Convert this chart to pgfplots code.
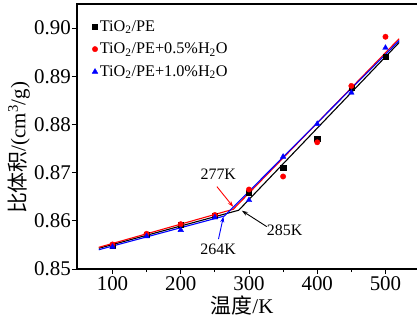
\documentclass[border=0pt]{standalone}
\usepackage{fontspec}
\setmainfont{Liberation Serif}
\newfontfamily\cjk{Noto Sans CJK SC}
\usepackage{pgfplots}
\pgfplotsset{compat=1.18}
\usetikzlibrary{arrows.meta}
\begin{document}
\begin{tikzpicture}
\begin{axis}[
  scale only axis,
  width=342.6bp, height=265bp,
  xmin=48, xmax=550, ymin=0.85, ymax=0.905,
  xtick={100,200,300,400,500},
  minor xtick={150,250,350,450},
  ytick={0.85,0.86,0.87,0.88,0.89,0.90},
  xtick pos=bottom, ytick pos=left,
  tick align=outside,
  major tick length=5bp, minor tick length=3bp,
  every tick/.style={black, line width=0.9bp},
  axis line style={line width=1.2bp},
  /pgf/number format/assume math mode=true,
  yticklabel style={/pgf/number format/fixed, /pgf/number format/fixed zerofill, /pgf/number format/precision=2, /tikz/inner sep=1bp},
  tick label style={font=\fontsize{21}{21}\selectfont},
  xticklabel style={inner sep=2bp},
  xlabel={{\cjk 温度}/K},
  ylabel={{\cjk 比体积}/(cm\textsuperscript{3}/g)},
  xlabel style={font=\fontsize{21}{21}\selectfont, at={(axis description cs:0.4816,-0.136)}, anchor=center},
  ylabel style={font=\fontsize{21}{21}\selectfont, at={(axis description cs:-0.17,0.457)}, anchor=center},
  legend style={at={(0.041,0.95)}, anchor=north west, draw=none, fill=none,
    font=\fontsize{16.3}{16.3}\selectfont, row sep=6.3bp, inner sep=1bp},
  legend cell align=left,
  legend image code/.code={\draw[mark repeat=2,mark phase=2] plot coordinates {(0cm,0cm)(0.13cm,0cm)(0.26cm,0cm)};},
  clip=false,
]
% fitted lines
\addplot[black, line width=1.1bp, forget plot] coordinates {(80,0.8543) (285,0.8622) (520,0.8970)};
\addplot[red, line width=1.1bp, forget plot] coordinates {(80,0.8545) (277,0.8624) (520,0.8978)};
\addplot[blue, line width=1.1bp, forget plot] coordinates {(80,0.8540) (264,0.8610) (520,0.8974)};
% data
\addplot[only marks, mark=square*, mark size=2.6bp, black] coordinates {
 (100,0.8549) (150,0.8572) (200,0.8592) (250,0.8611) (300,0.8658) (350,0.8710) (400,0.8771) (450,0.8876) (500,0.8940)};
\addlegendentry{TiO\textsubscript{2}/PE}
\addplot[only marks, mark=*, mark size=2.7bp, red] coordinates {
 (100,0.8551) (150,0.8573) (200,0.8593) (250,0.8612) (300,0.8665) (350,0.8692) (400,0.8763) (450,0.8880) (500,0.8982)};
\addlegendentry{TiO\textsubscript{2}/PE+0.5\%H\textsubscript{2}O}
\addplot[only marks, mark=triangle*, mark size=3.2bp, blue] coordinates {
 (100,0.8546) (150,0.8568) (200,0.8581) (250,0.8607) (300,0.8643) (350,0.8733) (400,0.8801) (450,0.8866) (500,0.8959)};
\addlegendentry{TiO\textsubscript{2}/PE+1.0\%H\textsubscript{2}O}
% annotations
\draw[red, line width=0.9bp, -{Stealth[length=6bp,width=4bp]}] (axis cs:253,0.8671) -- (axis cs:276.9,0.8629);
\draw[black, line width=0.9bp, -{Stealth[length=6bp,width=4bp]}] (axis cs:326,0.8588) -- (axis cs:289.6,0.8621);
\draw[blue, line width=0.9bp, -{Stealth[length=6bp,width=4bp]}] (axis cs:255.3,0.8562) -- (axis cs:262.6,0.8609);
\node[font=\fontsize{16}{16}\selectfont] at (axis cs:255,0.8697) {277K};
\node[font=\fontsize{16}{16}\selectfont] at (axis cs:352.3,0.8581) {285K};
\node[font=\fontsize{16}{16}\selectfont] at (axis cs:254.9,0.8541) {264K};
\end{axis}
\pgfresetboundingbox
\useasboundingbox (-77bp,-52bp) rectangle (340bp,269bp);
\end{tikzpicture}
\end{document}
